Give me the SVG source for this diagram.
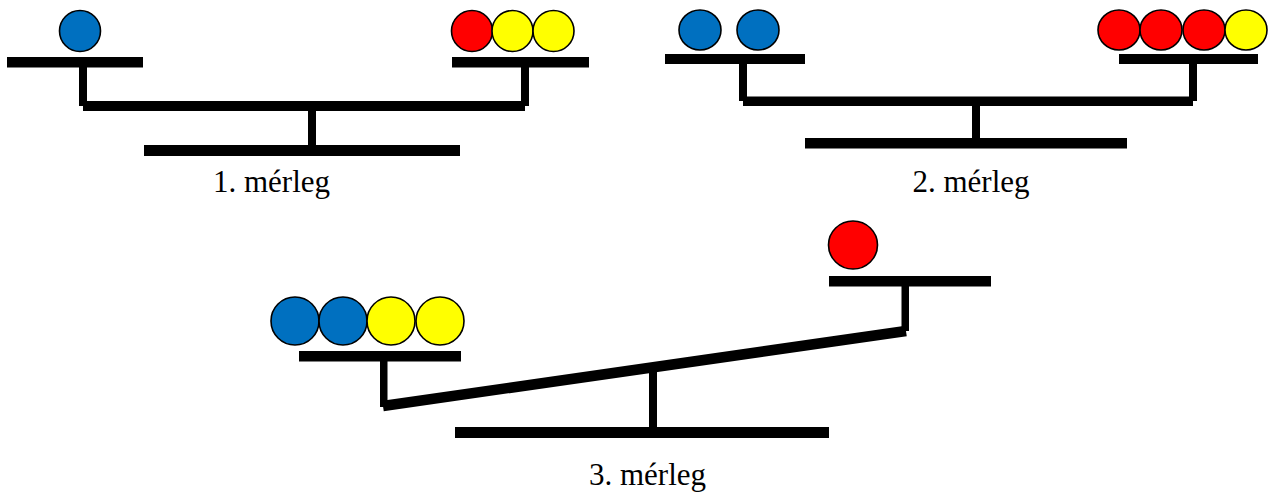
<svg xmlns="http://www.w3.org/2000/svg" width="1277" height="493" viewBox="0 0 1277 493">
<style>
.bar{fill:#000}
.beam{stroke:#000;stroke-linecap:butt;fill:none}
.ball{stroke:#000;stroke-width:1.6}
.blue{fill:#0070C0}
.red{fill:#FF0000}
.yellow{fill:#FFFF00}
.lbl{font-family:"Liberation Serif","Times New Roman",serif;font-size:31px;fill:#000;text-anchor:middle}
</style>
<rect width="1277" height="493" fill="#fff"/>
<g id="merleg1">
<rect class="bar" x="7" y="57" width="136" height="10.5"/>
<rect class="bar" x="79" y="62" width="8" height="44"/>
<rect class="bar" x="83" y="101" width="442" height="10"/>
<rect class="bar" x="521" y="62" width="8" height="44"/>
<rect class="bar" x="452" y="57" width="137" height="10.5"/>
<rect class="bar" x="308" y="106" width="8" height="40"/>
<rect class="bar" x="144" y="145" width="316" height="11"/>
<ellipse class="ball blue" cx="80" cy="31" rx="20.5" ry="20.5"/>
<ellipse class="ball red" cx="472" cy="31" rx="20.5" ry="20.5"/>
<ellipse class="ball yellow" cx="512.5" cy="31" rx="20.5" ry="20.5"/>
<ellipse class="ball yellow" cx="553.5" cy="31" rx="20.5" ry="20.5"/>
<text class="lbl" x="271.5" y="192">1. mérleg</text>
</g>
<g id="merleg2">
<rect class="bar" x="665" y="54" width="140" height="10"/>
<rect class="bar" x="739" y="59" width="8" height="42"/>
<rect class="bar" x="743" y="96.5" width="450" height="9.5"/>
<rect class="bar" x="1189" y="59" width="8" height="42"/>
<rect class="bar" x="1119" y="54" width="139" height="10"/>
<rect class="bar" x="972" y="101" width="8" height="38"/>
<rect class="bar" x="805" y="138" width="322" height="10.5"/>
<ellipse class="ball blue" cx="700" cy="30" rx="21" ry="20"/>
<ellipse class="ball blue" cx="758" cy="30" rx="21" ry="20"/>
<ellipse class="ball red" cx="1119" cy="30" rx="21" ry="20"/>
<ellipse class="ball red" cx="1161" cy="30" rx="21" ry="20"/>
<ellipse class="ball red" cx="1204" cy="30" rx="21" ry="20"/>
<ellipse class="ball yellow" cx="1246" cy="30" rx="21" ry="20"/>
<text class="lbl" x="971" y="192">2. mérleg</text>
</g>
<g id="merleg3">
<rect class="bar" x="299" y="351" width="162" height="10.5"/>
<rect class="bar" x="380" y="356" width="7.5" height="51"/>
<line class="beam" x1="383" y1="406" x2="906" y2="331" stroke-width="10.5"/>
<rect class="bar" x="901.5" y="281" width="7.5" height="50"/>
<rect class="bar" x="829" y="276" width="162" height="10.5"/>
<rect class="bar" x="649" y="367" width="8" height="62"/>
<rect class="bar" x="455" y="427" width="374" height="11"/>
<ellipse class="ball blue" cx="295" cy="321" rx="24" ry="24"/>
<ellipse class="ball blue" cx="343" cy="321" rx="24" ry="24"/>
<ellipse class="ball yellow" cx="391" cy="321" rx="24" ry="24"/>
<ellipse class="ball yellow" cx="440" cy="321" rx="24" ry="24"/>
<ellipse class="ball red" cx="853" cy="245" rx="24.5" ry="24"/>
<text class="lbl" x="647.5" y="485">3. mérleg</text>
</g>
</svg>
